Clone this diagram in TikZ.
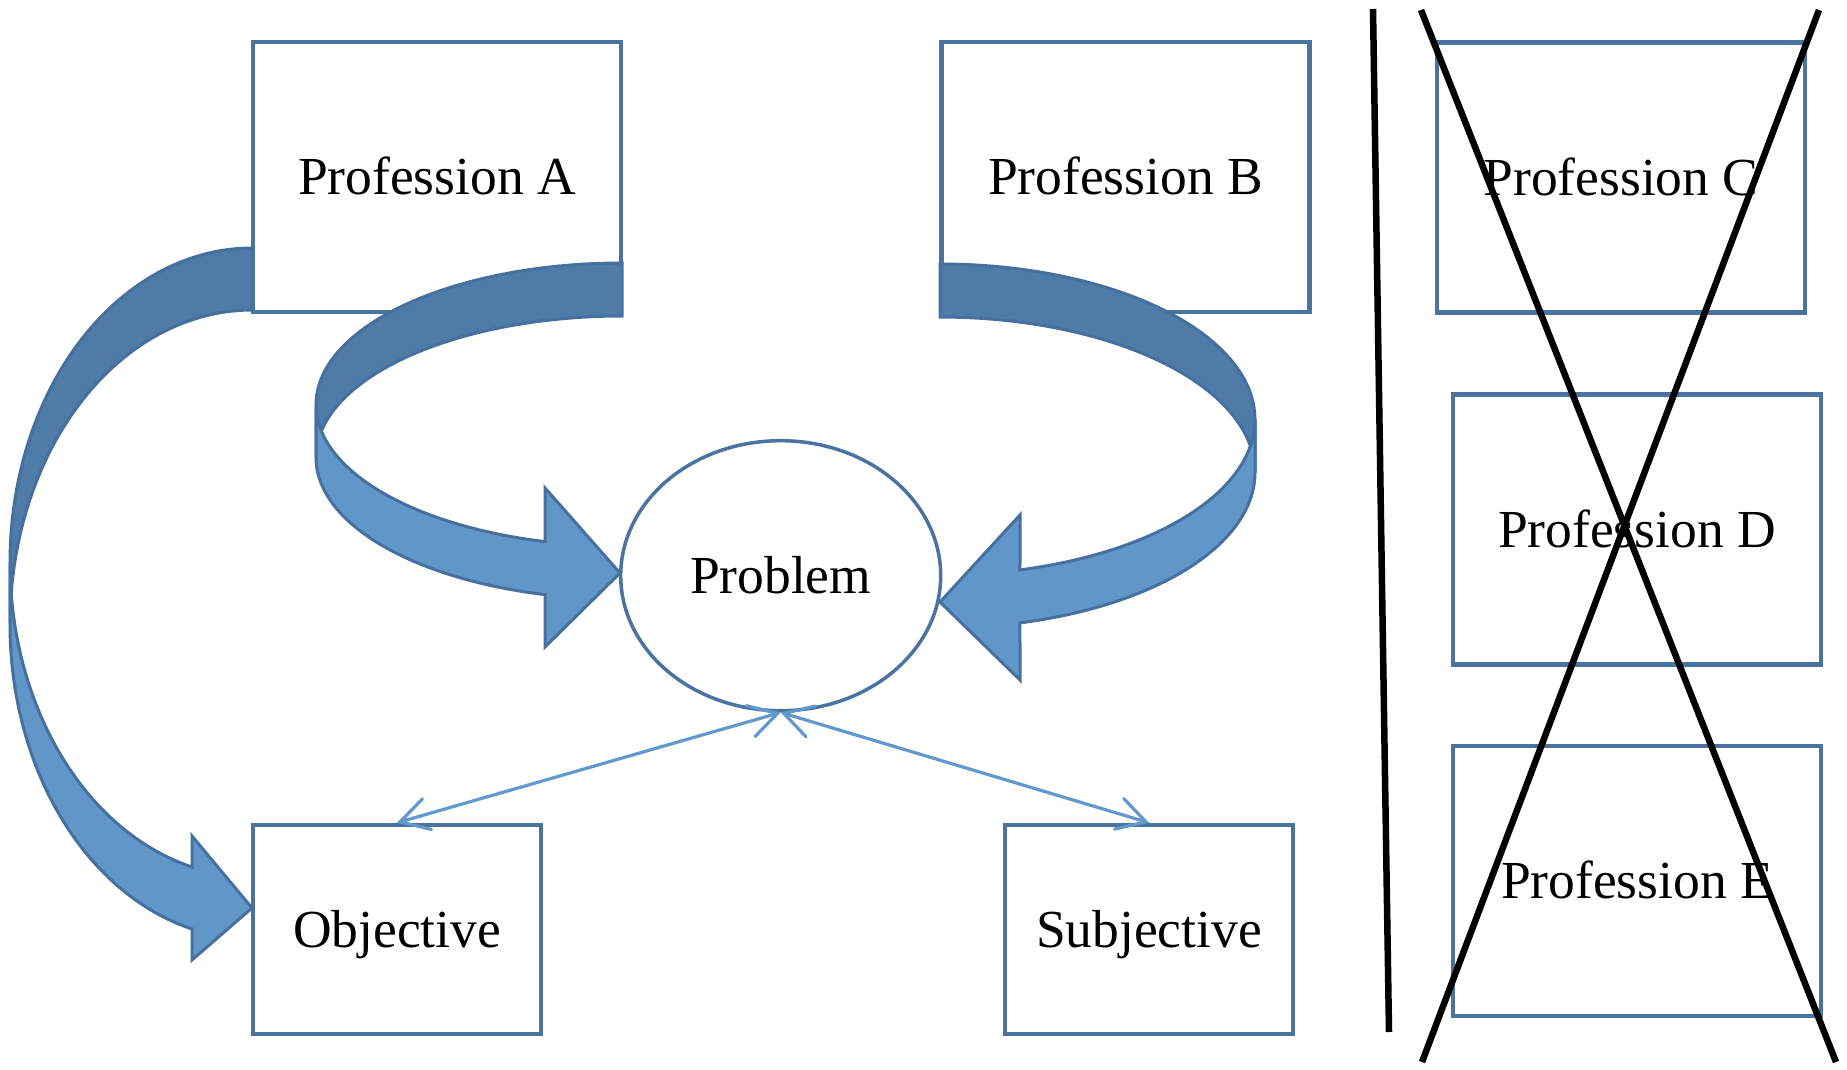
\documentclass[tikz,border=0pt]{standalone}
\usepackage{fontspec}
\setmainfont{Liberation Serif}
\usetikzlibrary{shapes.geometric,arrows.meta}
\definecolor{boxline}{RGB}{74,115,161}
\definecolor{darkface}{RGB}{79,123,168}
\definecolor{lightface}{RGB}{96,150,200}
\definecolor{arrowline}{RGB}{70,112,158}
\definecolor{connblue}{RGB}{99,152,205}
\begin{document}
\begin{tikzpicture}[x=1pt,y=-1pt,
  txt/.style={font=\fontsize{53.5}{62}\selectfont, text height=35.5pt, text depth=0pt},
  bigbox/.style={txt, draw=boxline, line width=4.5pt, fill=white, minimum width=368pt, minimum height=270pt, inner sep=0pt},
  smallbox/.style={txt, draw=boxline, line width=4.5pt, fill=white, minimum width=288pt, minimum height=209pt, inner sep=0pt},
  probshape/.style={txt, ellipse, draw=boxline, line width=3.5pt, fill=white, minimum width=320pt, minimum height=270pt, inner sep=0pt},
  backface/.style={fill=darkface, draw=arrowline, line width=3pt, line join=miter},
  frontface/.style={fill=lightface, draw=arrowline, line width=3pt, line join=miter},
  conn/.style={draw=connblue, line width=3.2pt, line cap=round, {Straight Barb[length=28pt,width=32pt,line cap=round]}-{Straight Barb[length=28pt,width=32pt,line cap=round]}},
  cross/.style={draw=black, line width=6.5pt}
]
\fill[white] (0,0) rectangle (1847,1070);
\useasboundingbox (0,0) rectangle (1847,1070);

% boxes
\node[bigbox] (pa) at (437,177) {Profession A};
\node[bigbox] (pb) at (1125.5,177) {Profession B};
\node[bigbox] (pc) at (1621,177.5) {Profession C};
\node[bigbox] (pd) at (1637,529.5) {Profession D};
\node[bigbox] (pe) at (1637,881) {Profession E};
\node[smallbox] (obj) at (397,929.5) {Objective};
\node[smallbox] (subj) at (1149,929.5) {Subjective};
\node[probshape] (prob) at (780.7,575.7) {Problem};

% curved arrow: Profession A -> Objective
\filldraw[backface] plot[domain=270:180,samples=60,variable=\t] ({252+242*cos(\t)},{562.4+314.4*sin(\t)})
  -- plot[domain=180:270,samples=60,variable=\t] ({252+242*cos(\t)},{624.4+314.4*sin(\t)}) -- cycle;
\filldraw[frontface] plot[domain=180:104.35,samples=60,variable=\t] ({252+242*cos(\t)},{562.4+314.4*sin(\t)})
  -- (192,836) -- (252,908) -- (192,960)
  -- plot[domain=104.35:180,samples=60,variable=\t] ({252+242*cos(\t)},{624.4+314.4*sin(\t)}) -- cycle;

% curved arrow: Profession A -> Problem
\filldraw[backface] plot[domain=270:180,samples=60,variable=\t] ({622+306*cos(\t)},{404.6+141.6*sin(\t)})
  -- plot[domain=180:270,samples=60,variable=\t] ({622+306*cos(\t)},{457.6+141.6*sin(\t)}) -- cycle;
\filldraw[frontface] plot[domain=180:104.57,samples=60,variable=\t] ({622+306*cos(\t)},{404.6+141.6*sin(\t)})
  -- (545,488) -- (620,573) -- (545,647)
  -- plot[domain=104.57:180,samples=60,variable=\t] ({622+306*cos(\t)},{457.6+141.6*sin(\t)}) -- cycle;

% curved arrow: Profession B -> Problem
\filldraw[backface] plot[domain=270:360,samples=60,variable=\t] ({940+315*cos(\t)},{419.5+155.5*sin(\t)})
  -- plot[domain=360:270,samples=60,variable=\t] ({940+315*cos(\t)},{472.5+155.5*sin(\t)}) -- cycle;
\filldraw[frontface] plot[domain=0:75.29,samples=60,variable=\t] ({940+315*cos(\t)},{419.5+155.5*sin(\t)})
  -- (1020,515) -- (940,602) -- (1020,680)
  -- plot[domain=75.29:0,samples=60,variable=\t] ({940+315*cos(\t)},{472.5+155.5*sin(\t)}) -- cycle;

% thin double arrows
\draw[conn] (prob.south) -- (obj.north);
\draw[conn] (prob.south) -- (subj.north);

% separator and cross
\coordinate (sepT) at (1373,9);
\coordinate (sepB) at (1389,1032);
\coordinate (x1a) at (1421,10);
\coordinate (x1b) at (1836,1062);
\coordinate (x2a) at (1819,10);
\coordinate (x2b) at (1422,1062);
\draw[cross] (sepT) -- (sepB);
\draw[cross] (x1a) -- (x1b);
\draw[cross] (x2a) -- (x2b);
\end{tikzpicture}
\end{document}
